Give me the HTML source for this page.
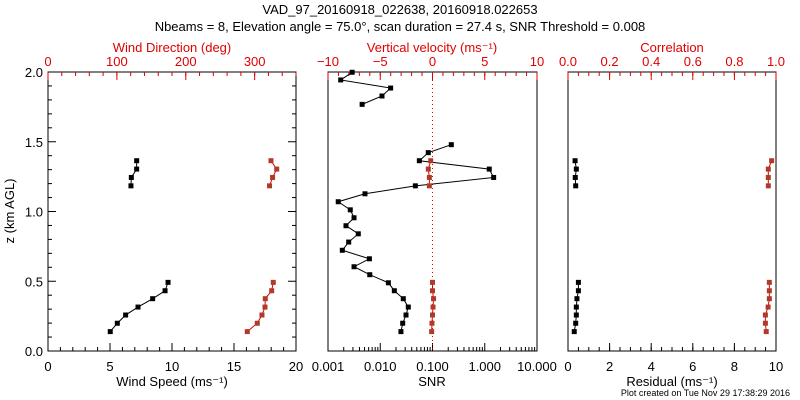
<!DOCTYPE html>
<html><head><meta charset="utf-8"><style>
body{margin:0;background:#fff;width:800px;height:400px;overflow:hidden}
svg{display:block;font-family:"Liberation Sans",sans-serif}
</style></head><body>
<svg id="c" width="800" height="400">
<text x="400" y="14" font-size="13" text-anchor="middle">VAD_97_20160918_022638, 20160918.022653</text>
<text x="400" y="31" font-size="13" text-anchor="middle">Nbeams = 8, Elevation angle = 75.0°, scan duration = 27.4 s, SNR Threshold = 0.008</text>
<text x="790" y="396" font-size="9" text-anchor="end">Plot created on Tue Nov 29 17:38:29 2016</text>
</svg>
<script>
const zUp=[1.364,1.304,1.244,1.184];
const zLow=[0.492,0.432,0.375,0.315,0.258,0.199,0.139];
const speedUp=[7.15,7.15,6.72,6.69];
const speedLow=[9.68,9.44,8.44,7.26,6.26,5.59,5.02];
const dirUp=[323.7,332,326,321.6];
const dirLow=[327,324.7,315.4,315,310.6,303.8,289.3];
const wUp=[-0.17,-0.4,-0.3,-0.3];
const wLow=[0.0,0.0,0.1,0.05,0,-0.05,-0.08];
const zSnrTop=[1.998,1.943,1.885,1.828,1.768];
const snrTop=[0.0029,0.00175,0.0158,0.0108,0.0045];
const zSnr=[1.479,1.422,1.364,1.304,1.244,1.184,1.127,1.070,1.012,0.955,0.898,0.840,0.781,0.722,0.661,0.604,0.547,0.489,0.432,0.375,0.315,0.258,0.199,0.139];
const snr=[0.229,0.083,0.056,1.22,1.48,0.047,0.0051,0.00157,0.00267,0.00315,0.00221,0.0038,0.00249,0.00188,0.0062,0.00315,0.0063,0.0143,0.0186,0.0276,0.0344,0.0311,0.0269,0.0249];
const resUp=[0.34,0.40,0.35,0.37];
const resLow=[0.50,0.50,0.43,0.40,0.40,0.37,0.30];
const corUp=[0.979,0.963,0.963,0.963];
const corLow=[0.968,0.968,0.968,0.962,0.949,0.949,0.953];
const zTicks=["0.0","0.5","1.0","1.5","2.0"];
const speedTicks=["0","5","10","15","20"];
const dirTicks=["0","100","200","300"];
const wTicks=["−10","−5","0","5","10"];
const snrTicks=["0.001","0.010","0.100","1.000","10.000"];
const resTicks=["0","2","4","6","8","10"];
const corTicks=["0.0","0.2","0.4","0.6","0.8","1.0"];

const NS="http://www.w3.org/2000/svg",svg=document.getElementById('c');
const T=72,B=351,RED="#e00000",DR="#b03a2a";
const yz=z=>B-(B-T)*z/2;
function el(t,a,p){const e=document.createElementNS(NS,t);for(const k in a)e.setAttribute(k,a[k]);(p||svg).appendChild(e);return e;}
function txt(x,y,s,o){const e=el('text',Object.assign({x:x,y:y,'font-size':13,'text-anchor':'middle'},o||{}));e.textContent=s;return e;}
function lin(x1,y1,x2,y2,c,w,g){return el('line',{x1:x1,y1:y1,x2:x2,y2:y2,stroke:c||'#000','stroke-width':w||1},g);}
function series(xs,zs,fx,col,mcol,name){
  const g=el('g',{});
  
  
  const pts=xs.map((v,i)=>[fx(v),yz(zs[i])]);
  el('polyline',{points:pts.map(p=>p.join(',')).join(' '),fill:'none',stroke:col,'stroke-width':1},g);
  pts.forEach(p=>{const r=el('rect',{x:p[0]-2.5,y:p[1]-2.5,width:5,height:5,fill:mcol},g);
    
    });
}
function frame(x0,x1,name){const r=el('rect',{x:x0,y:T,width:x1-x0,height:B-T,fill:'none',stroke:'#000'});
  
  }
function linTicks(x0,x1,lo,hi,labels,minor,top,col,yt){
  const f=v=>x0+(x1-x0)*(v-lo)/(hi-lo),y=top?T:B,d=top?1:-1;
  for(let v=lo;v<=hi+1e-9;v+=minor)lin(f(v),y,f(v),y+d*4,col);
  labels.forEach(s=>{const v=parseFloat(s.replace('−','-'));if(v<lo-1e-9||v>hi+1e-9)return;
    lin(f(v),y,f(v),y+d*8,col);txt(f(v),top?T-6:B+20,s,{fill:col});});
  return f;
}
// y axis
zTicks.forEach(s=>txt(43,yz(+s)+5,s,{'text-anchor':'end'}));
const yl=txt(14,211,'z (km AGL)',{transform:'rotate(-90 14 211)'});

// panel 1
const P1=[48,296];frame(P1[0],P1[1],'speed-panel');
const fs=linTicks(P1[0],P1[1],0,20,speedTicks,1,false,'#000');
const fd=linTicks(P1[0],P1[1],0,360,dirTicks,20,true,RED);
for(let z=0;z<=2.001;z+=0.1){const L=Math.abs(z*2-Math.round(z*2))<1e-6?8:4;lin(P1[0],yz(z),P1[0]+L,yz(z));lin(P1[1],yz(z),P1[1]-L,yz(z));}
txt(172,386,'Wind Speed (ms⁻¹)');txt(172,52,'Wind Direction (deg)',{fill:RED});
series(speedUp,zUp,fs,'#000','#000','speed-upper');series(speedLow,zLow,fs,'#000','#000','speed-lower');
series(dirUp,zUp,fd,RED,DR,'direction-upper');series(dirLow,zLow,fd,RED,DR,'direction-lower');
// panel 2
const P2=[328,537];frame(P2[0],P2[1],'snr-panel');
const fw=linTicks(P2[0],P2[1],-10,10,wTicks,1,true,RED);
const fl=v=>P2[0]+(P2[1]-P2[0])*(Math.log10(v)+3)/4;
for(let e=-3;e<1;e++)for(let m=1;m<10;m++)lin(fl(m*Math.pow(10,e)),B,fl(m*Math.pow(10,e)),B-(m==1?8:4));
snrTicks.forEach(s=>txt(fl(+s),B+20,s));
lin(fw(0),T,fw(0),B,RED,1).setAttribute('stroke-dasharray','1,3');
txt(432,386,'SNR');txt(432,52,'Vertical velocity (ms⁻¹)',{fill:RED});
series(snrTop,zSnrTop,fl,'#000','#000','snr-top');series(snr,zSnr,fl,'#000','#000','snr-main');
series(wUp,zUp,fw,RED,DR,'w-upper');series(wLow,zLow,fw,RED,DR,'w-lower');
// panel 3
const P3=[568,776];frame(P3[0],P3[1],'residual-panel');
const fr=linTicks(P3[0],P3[1],0,10,resTicks,0.5,false,'#000');
const fc=linTicks(P3[0],P3[1],0,1,corTicks,0.05,true,RED);
txt(672,386,'Residual (ms⁻¹)');txt(672,52,'Correlation',{fill:RED});
series(resUp,zUp,fr,'#000','#000','residual-upper');series(resLow,zLow,fr,'#000','#000','residual-lower');
series(corUp,zUp,fc,RED,DR,'correlation-upper');series(corLow,zLow,fc,RED,DR,'correlation-lower');
</script>
</body></html>
